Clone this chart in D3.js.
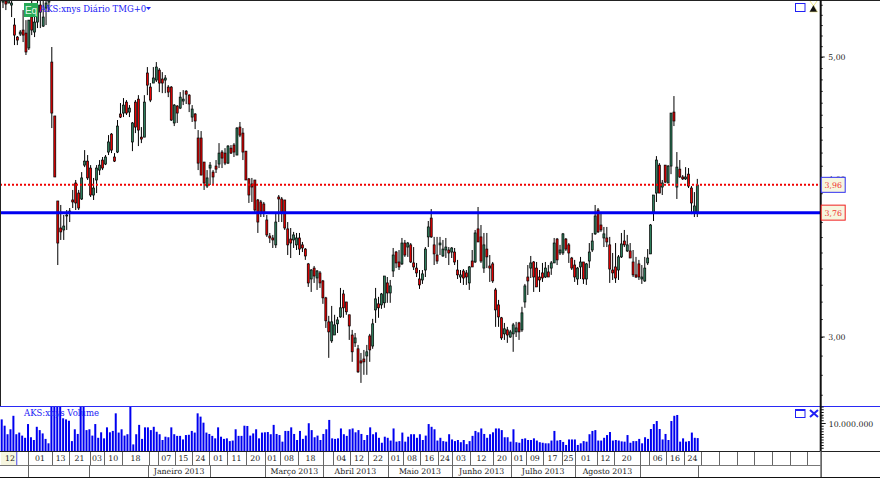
<!DOCTYPE html>
<html>
<head>
<meta charset="utf-8">
<script src="https://cdn.jsdelivr.net/npm/d3@7"></script>
<style>
    html, body { margin: 0; padding: 0; background: #fff; }
    svg { display: block; }
    text { font-family: "DejaVu Serif", "Liberation Serif", serif; }
</style>
</head>
<body>
<div id="chart"></div>
<script>
const highs = [
    5.60,5.60,5.60,5.60,5.368,5.195,5.252,5.447,5.348,5.348,
    5.60,5.427,5.60,5.60,5.60,5.60,5.60,5.092,4.490,3.845,
    3.817,3.748,3.782,3.796,3.923,3.995,3.923,4.053,4.219,4.181,
    4.105,4.010,4.105,4.143,4.166,4.181,4.336,4.352,4.196,4.457,
    4.597,4.639,4.622,4.580,4.441,4.622,4.664,4.400,4.664,4.909,
    4.768,4.909,4.954,4.900,4.864,4.838,4.750,4.742,4.589,4.580,
    4.690,4.707,4.707,4.672,4.580,4.514,4.376,4.368,4.128,4.068,
    4.128,4.068,4.143,4.273,4.219,4.234,4.258,4.258,4.273,4.400,
    4.441,4.392,4.211,4.010,4.010,3.995,3.859,3.852,3.838,3.748,
    3.627,3.614,3.768,3.887,3.873,3.852,3.700,3.660,3.634,3.627,
    3.627,3.568,3.529,3.434,3.396,3.415,3.390,3.384,3.329,3.228,
    3.118,3.175,3.124,3.112,3.281,3.269,3.198,3.124,3.039,3.022,
    2.957,2.914,2.930,2.957,3.017,3.101,3.281,3.228,3.251,3.353,
    3.347,3.329,3.529,3.510,3.516,3.594,3.581,3.568,3.561,3.535,
    3.434,3.390,3.390,3.535,3.707,3.789,3.601,3.601,3.601,3.581,
    3.594,3.535,3.535,3.529,3.453,3.390,3.396,3.390,3.415,3.516,
    3.647,3.803,3.680,3.627,3.627,3.484,3.440,3.281,3.210,3.112,
    3.078,3.056,3.039,3.078,3.084,3.084,3.170,3.305,3.421,3.478,
    3.446,3.440,3.390,3.434,3.440,3.421,3.446,3.594,3.594,3.549,
    3.627,3.594,3.561,3.472,3.453,3.409,3.472,3.440,3.434,3.561,
    3.627,3.817,3.796,3.768,3.667,3.667,3.601,3.497,3.561,3.484,
    3.627,3.647,3.614,3.561,3.516,3.472,3.453,3.421,3.472,3.522,
    3.687,3.887,4.173,4.120,3.995,4.105,4.105,4.514,4.656,4.204,
    4.143,4.031,4.090,4.083,3.951,3.908,4.003
];
const lows = [
    5.467,5.447,5.517,5.378,5.110,5.110,5.195,5.138,5.018,5.064,
    5.204,5.185,5.271,5.271,5.281,5.300,5.427,4.392,4.017,3.421,
    3.581,3.581,3.647,3.700,3.796,3.782,3.782,3.852,4.090,3.995,
    3.873,3.852,3.901,4.031,4.068,4.105,4.181,4.196,4.128,4.196,
    4.473,4.481,4.498,4.481,4.211,4.352,4.250,4.273,4.320,4.664,
    4.605,4.768,4.777,4.690,4.681,4.681,4.647,4.449,4.408,4.433,
    4.547,4.580,4.589,4.522,4.441,4.384,4.068,4.031,3.923,3.937,
    3.959,3.959,4.046,4.083,4.083,4.105,4.113,4.189,4.166,4.181,
    4.320,4.143,3.995,3.831,3.838,3.761,3.627,3.734,3.734,3.601,
    3.561,3.529,3.529,3.700,3.700,3.647,3.484,3.465,3.529,3.516,
    3.484,3.503,3.453,3.287,3.257,3.311,3.269,3.281,3.187,3.050,
    2.888,2.968,3.011,3.022,3.107,3.107,3.124,2.984,2.867,2.946,
    2.810,2.759,2.800,2.800,2.867,2.936,3.078,3.107,3.158,3.164,
    3.193,3.193,3.347,3.402,3.390,3.421,3.472,3.472,3.434,3.390,
    3.347,3.275,3.305,3.347,3.535,3.594,3.421,3.428,3.484,3.472,
    3.465,3.421,3.465,3.421,3.335,3.311,3.299,3.299,3.269,3.409,
    3.434,3.568,3.434,3.372,3.402,3.317,3.311,3.056,3.056,2.984,
    2.984,2.968,2.995,2.920,3.000,2.984,3.028,3.164,3.239,3.341,
    3.257,3.287,3.257,3.317,3.341,3.347,3.360,3.434,3.421,3.484,
    3.484,3.510,3.434,3.390,3.317,3.299,3.335,3.305,3.299,3.402,
    3.503,3.614,3.627,3.634,3.535,3.535,3.311,3.329,3.311,3.329,
    3.465,3.535,3.503,3.465,3.347,3.341,3.329,3.305,3.317,3.421,
    3.491,3.707,3.838,3.901,3.887,3.973,3.973,4.038,4.408,3.859,
    4.010,3.995,3.995,3.937,3.754,3.734,3.734
];
const opens = [
    5.527,5.537,5.517,5.497,5.300,5.185,5.214,5.252,5.223,5.083,
    5.378,5.233,5.329,5.497,5.290,5.467,5.527,4.954,4.490,3.845,
    3.660,3.647,3.741,3.761,3.852,3.973,3.901,3.859,4.105,4.135,
    4.083,3.887,3.995,4.068,4.143,4.113,4.204,4.344,4.166,4.204,
    4.506,4.514,4.605,4.522,4.282,4.605,4.630,4.320,4.320,4.856,
    4.733,4.768,4.794,4.882,4.803,4.794,4.733,4.733,4.433,4.572,
    4.555,4.614,4.698,4.664,4.481,4.506,4.313,4.313,4.128,3.951,
    4.083,4.053,4.098,4.113,4.204,4.196,4.120,4.234,4.258,4.181,
    4.400,4.352,4.211,4.003,3.966,3.995,3.852,3.838,3.824,3.714,
    3.607,3.594,3.549,3.873,3.859,3.852,3.654,3.587,3.581,3.549,
    3.594,3.549,3.522,3.428,3.335,3.402,3.341,3.372,3.323,3.222,
    3.084,2.979,3.011,3.073,3.112,3.245,3.198,3.124,3.011,2.968,
    2.936,2.872,2.882,2.898,3.006,2.951,3.152,3.187,3.181,3.193,
    3.311,3.251,3.384,3.503,3.440,3.428,3.561,3.535,3.549,3.434,
    3.402,3.335,3.329,3.390,3.601,3.727,3.549,3.484,3.549,3.478,
    3.516,3.516,3.503,3.503,3.390,3.347,3.384,3.372,3.311,3.446,
    3.440,3.654,3.601,3.402,3.522,3.415,3.428,3.269,3.181,3.107,
    3.017,3.039,3.000,3.017,3.028,3.078,3.039,3.198,3.347,3.402,
    3.440,3.402,3.347,3.372,3.347,3.378,3.402,3.434,3.587,3.497,
    3.497,3.587,3.549,3.465,3.421,3.335,3.409,3.440,3.335,3.446,
    3.516,3.621,3.782,3.680,3.594,3.594,3.549,3.390,3.409,3.390,
    3.472,3.574,3.510,3.510,3.440,3.360,3.428,3.335,3.323,3.434,
    3.491,3.761,3.901,4.105,3.944,4.105,3.973,4.098,4.522,3.944,
    4.075,4.017,4.003,4.038,3.937,3.761,3.761
];
const closes = [
    5.547,5.507,5.547,5.517,5.204,5.157,5.233,5.204,5.046,5.348,
    5.252,5.329,5.497,5.427,5.378,5.517,5.547,4.514,4.017,3.561,
    3.634,3.673,3.748,3.775,3.838,3.831,3.796,4.010,4.135,4.010,
    3.887,3.937,4.083,4.105,4.083,4.166,4.282,4.219,4.135,4.408,
    4.481,4.580,4.514,4.555,4.433,4.400,4.376,4.305,4.605,4.750,
    4.622,4.812,4.909,4.768,4.768,4.812,4.690,4.457,4.580,4.514,
    4.647,4.630,4.672,4.589,4.547,4.449,4.120,4.031,3.973,4.010,
    4.105,4.017,4.075,4.196,4.158,4.120,4.250,4.196,4.204,4.392,
    4.336,4.204,3.995,3.887,3.944,3.782,3.700,3.761,3.761,3.614,
    3.594,3.581,3.700,3.859,3.761,3.660,3.549,3.561,3.614,3.594,
    3.522,3.529,3.478,3.311,3.390,3.353,3.384,3.311,3.222,3.090,
    3.028,3.084,3.067,3.095,3.164,3.164,3.141,3.061,2.920,2.995,
    2.815,2.861,2.867,2.920,2.930,3.073,3.216,3.164,3.245,3.353,
    3.251,3.293,3.484,3.434,3.409,3.561,3.484,3.561,3.440,3.409,
    3.372,3.299,3.366,3.522,3.667,3.601,3.491,3.446,3.561,3.522,
    3.535,3.497,3.529,3.440,3.360,3.360,3.341,3.347,3.409,3.409,
    3.627,3.568,3.446,3.549,3.472,3.402,3.323,3.152,3.112,2.995,
    3.045,3.011,3.028,3.067,3.050,3.028,3.135,3.293,3.323,3.434,
    3.347,3.287,3.329,3.341,3.402,3.347,3.434,3.561,3.453,3.516,
    3.621,3.522,3.497,3.402,3.347,3.402,3.440,3.335,3.428,3.503,
    3.574,3.741,3.634,3.647,3.621,3.568,3.396,3.372,3.341,3.472,
    3.555,3.549,3.549,3.465,3.360,3.347,3.347,3.347,3.402,3.465,
    3.680,3.887,4.143,3.901,3.973,3.980,4.098,4.514,4.449,4.090,
    4.017,4.003,4.017,3.951,3.831,3.810,3.959
];
// volume in millions of shares
const volumes = [
    11.5,9.2,6.1,7.9,12.8,6.1,6.7,5.6,4.8,9.8,5.0,4.0,8.8,7.6,6.4,4.4,2.8,18,20,24,19,11.9,11.5,11.0,3.6,7.9,6.2,21,18,
    7.6,7.9,5.6,9.8,4.8,6.8,4.6,8.6,6.8,7.3,13.7,6.7,7.9,5.6,6.1,22,2.4,6.1,9.5,4.4,8.6,8.6,7.6,8.8,7.0,6.1,4.0,5.2,5.0,
    8.6,6.1,5.5,5.5,4.2,5.8,5.9,7.3,6.7,13.7,12.5,10.3,6.7,6.2,5.5,4.6,8.6,5.2,4.4,4.6,3.6,3.8,7.9,5.5,5.5,9.2,9.1,5.6,
    6.4,7.9,4.6,6.7,6.8,6.9,6.1,9.5,6.2,5.8,3.4,7.3,7.3,
    8.6,6.2,4.0,7.3,4.4,5.6,10.1,7.6,5.0,5.6,4.0,6.2,7.9,11.3,4.6,4.4,4.6,8.2,6.1,5.5,7.9,8.2,6.8,7.6,6.2,4.0,5.8,8.6,
    6.1,6.8,4.8,3.0,5.2,4.8,3.8,8.2,3.4,3.6,6.7,3.4,5.2,6.1,6.1,4.8,6.1,4.0,5.6,9.8,8.8,7.9,3.8,4.8,3.6,3.4,6.1,4.2,3.6,
    4.0,3.2,4.0,2.5,3.6,5.5,7.3,6.8,8.2,6.2,4.8,6.1,6.8,8.2,8.2,7.6,5.0,5.0,3.4,7.9,3.2,3.0,4.4,4.6,4.0,4.0,4.6,3.8,3.2,
    3.0,2.8,2.8,3.8,7.3,3.8,4.0,3.3,2.2,4.2,4.2,4.2,2.2,
    2.8,3.6,3.4,6.1,7.3,7.6,3.8,3.8,4.8,5.8,6.9,3.8,4.0,3.8,3.5,3.4,5.8,3.0,3.6,3.6,4.4,2.8,5.0,4.4,8.0,9.8,10.9,8.0,
    4.2,6.2,4.0,10.9,12.8,13.1,3.4,4.6,3.4,3.6,6.7,4.8,4.7
];

// calendar strips, breaks given in bar numbers
const dayLabels = ["12","","01","13","21","03","10","18","","07","15","24","01","11","20","01","08","18","","04","12","22",
    "01","08","16","24","03","12","20","01","09","17","25","01","12","20","","06","16","24","","","","","","","",""];
const dayBreaks = [0,4.8,8.8,17,22.9,29.7,34.6,40.6,49.5,52.5,58.2,63.9,69.7,75.8,81.9,88.3,93.4,99.4,108.1,111.3,117.3,123.3,130.3,
    135.5,141.3,147.3,152.1,158.3,166.1,172.3,177.5,183.3,189.6,194.2,201.5,207.5,216.2,219.5,225.3,231.4,237.3,243.5,249.5,
    255.5,261.6,267.6,273.6,278.4];
const monthLabels = ["","","","Janeiro 2013","","Março 2013","Abril 2013","Maio 2013","Junho 2013","Julho 2013","Agosto 2013","",""];
const monthBreaks = [0,8.8,29.6,49.3,70,88.4,108.1,130.1,152.2,172.3,194.2,216.2,236.4,278.4];

const priceTicks = d3.range(2.6, 5.65, 0.1).map(d => +d.toFixed(1));
const priceLabels = [3, 4, 5];
const resistance = 3.96;
const support = 3.764;

const width = 880, height = 478;
const axisX = 820.7;
const priceBottom = 406, volBottom = 451, dayBottom = 465, monthBottom = 477;
const labelSize = 7.8;

const svg = d3.select('#chart').append('svg')
    .attr('width', width)
    .attr('height', height);

svg.append('defs').append('clipPath').attr('id', 'price-clip')
    .append('rect').attr('x', 0).attr('y', 0).attr('width', axisX).attr('height', priceBottom);
svg.select('defs').append('clipPath').attr('id', 'vol-clip')
    .append('rect').attr('x', 0).attr('y', priceBottom).attr('width', axisX).attr('height', volBottom - priceBottom);

// bars are not quite evenly spread in the picture, hence the extra stops
const xScale = d3.scaleLinear()
    .domain([0, 17, 97, 199, 236])
    .range([3, 51.8, 290.7, 589.3, 697.3]);
const xVol = d3.scaleLinear()
    .domain([0, volumes.length - 1])
    .range([1.7, 697.7]);
const yScale = d3.scaleLog()
    .domain([5, 3])
    .range([57, 337]);
const yVol = d3.scaleLinear()
    .domain([0, 10])
    .range([volBottom, 423.5]);

// price panel
const pricePanel = svg.append('g').attr('clip-path', 'url(#price-clip)');

pricePanel.selectAll('line.wick')
    .data(highs)
    .join('line')
    .attr('class', 'wick')
    .attr('x1', (d, i) => xScale(i))
    .attr('x2', (d, i) => xScale(i))
    .attr('y1', d => yScale(d))
    .attr('y2', (d, i) => yScale(lows[i]))
    .attr('stroke', '#000')
    .attr('stroke-width', 1);

pricePanel.selectAll('rect.body')
    .data(opens)
    .join('rect')
    .attr('class', 'body')
    .attr('x', (d, i) => xScale(i) - 1)
    .attr('y', (d, i) => yScale(Math.max(d, closes[i])))
    .attr('width', 2)
    .attr('height', (d, i) => Math.max(1, yScale(Math.min(d, closes[i])) - yScale(Math.max(d, closes[i]))))
    .attr('fill', (d, i) => closes[i] >= d ? '#2e7d5b' : '#e60000')
    .attr('stroke', '#000')
    .attr('stroke-width', 0.7);

svg.append('line')
    .attr('x1', 0).attr('x2', axisX)
    .attr('y1', yScale(resistance)).attr('y2', yScale(resistance))
    .attr('stroke', '#f00000')
    .attr('stroke-width', 2)
    .attr('stroke-dasharray', '2,2');
svg.append('line')
    .attr('x1', 0).attr('x2', axisX)
    .attr('y1', yScale(support)).attr('y2', yScale(support))
    .attr('stroke', '#0000f0')
    .attr('stroke-width', 3);

// volume panel
svg.append('g').attr('clip-path', 'url(#vol-clip)')
    .selectAll('rect')
    .data(volumes)
    .join('rect')
    .attr('x', (d, i) => xVol(i) - 1)
    .attr('y', d => yVol(d))
    .attr('width', 2)
    .attr('height', d => volBottom - yVol(d))
    .attr('fill', '#0000f0');

// frame
svg.append('rect').attr('x', 0).attr('y', 0).attr('width', width).attr('height', 1).attr('fill', '#222');
svg.append('rect').attr('x', 0).attr('y', 0).attr('width', 1).attr('height', priceBottom).attr('fill', '#222');
svg.append('line').attr('x1', 0).attr('x2', width).attr('y1', priceBottom + 0.5).attr('y2', priceBottom + 0.5)
    .attr('stroke', '#2a2af5').attr('stroke-width', 1);
svg.append('line').attr('x1', 0).attr('x2', width).attr('y1', volBottom + 0.5).attr('y2', volBottom + 0.5)
    .attr('stroke', '#222').attr('stroke-width', 1);
svg.append('line').attr('x1', 0).attr('x2', axisX).attr('y1', dayBottom + 0.5).attr('y2', dayBottom + 0.5)
    .attr('stroke', '#777').attr('stroke-width', 1);
svg.append('line').attr('x1', 0).attr('x2', width).attr('y1', monthBottom + 0.5).attr('y2', monthBottom + 0.5)
    .attr('stroke', '#111').attr('stroke-width', 1);

// calendar strips
svg.append('rect')
    .attr('x', 1).attr('y', volBottom + 1)
    .attr('width', xScale(dayBreaks[1]) - 1).attr('height', dayBottom - volBottom - 1)
    .attr('fill', '#f6f6df');
svg.append('line')
    .attr('x1', xScale(dayBreaks[1])).attr('x2', xScale(dayBreaks[1]))
    .attr('y1', volBottom + 1).attr('y2', dayBottom)
    .attr('stroke', '#4a4af0');

const dayStrip = svg.append('g');
dayStrip.selectAll('line')
    .data(dayBreaks.slice(2))
    .join('line')
    .attr('x1', d => Math.round(xScale(d)) + 0.5)
    .attr('x2', d => Math.round(xScale(d)) + 0.5)
    .attr('y1', volBottom + 1)
    .attr('y2', dayBottom)
    .attr('stroke', '#666');
dayStrip.selectAll('text')
    .data(dayLabels)
    .join('text')
    .attr('x', (d, i) => xScale((dayBreaks[i] + dayBreaks[i + 1]) / 2))
    .attr('y', 461)
    .attr('text-anchor', 'middle')
    .attr('font-size', labelSize)
    .attr('fill', '#222')
    .text(d => d);

const monthStrip = svg.append('g');
monthStrip.selectAll('line')
    .data(monthBreaks.slice(1))
    .join('line')
    .attr('x1', d => Math.round(xScale(d)) + 0.5)
    .attr('x2', d => Math.round(xScale(d)) + 0.5)
    .attr('y1', dayBottom)
    .attr('y2', monthBottom)
    .attr('stroke', '#666');
monthStrip.selectAll('text')
    .data(monthLabels)
    .join('text')
    .attr('x', (d, i) => xScale((monthBreaks[i] + monthBreaks[i + 1]) / 2))
    .attr('y', 474)
    .attr('text-anchor', 'middle')
    .attr('font-size', labelSize)
    .attr('fill', '#222')
    .text(d => d);

// price axis
const priceAxis = d3.axisRight(yScale)
    .tickValues(priceTicks)
    .tickSize(2)
    .tickFormat('');
const axisG = svg.append('g')
    .attr('transform', `translate(${axisX}, 0)`)
    .call(priceAxis);
axisG.select('.domain').remove();
axisG.selectAll('line').attr('stroke', '#111');

const priceLabelG = svg.append('g');
priceLabelG.selectAll('line')
    .data(priceLabels)
    .join('line')
    .attr('x1', axisX)
    .attr('x2', axisX + 4)
    .attr('y1', d => yScale(d))
    .attr('y2', d => yScale(d))
    .attr('stroke', '#111');
priceLabelG.selectAll('text')
    .data(priceLabels)
    .join('text')
    .attr('x', axisX + 7.5)
    .attr('y', d => yScale(d) + 3)
    .attr('font-size', labelSize)
    .attr('fill', '#222')
    .text(d => d3.format('.2f')(d).replace('.', ','));

svg.append('line')
    .attr('x1', axisX).attr('x2', axisX)
    .attr('y1', 0).attr('y2', volBottom)
    .attr('stroke', '#111')
    .attr('stroke-width', 2);
svg.append('line')
    .attr('x1', axisX).attr('x2', axisX)
    .attr('y1', volBottom).attr('y2', monthBottom)
    .attr('stroke', '#777');

// volume axis
const volTicks = [1, 2, 3, 4, 5, 6, 7, 8, 9, 11, 12, 13, 14, 15, 16];
svg.append('g').selectAll('line')
    .data(volTicks)
    .join('line')
    .attr('x1', axisX)
    .attr('x2', axisX + 3)
    .attr('y1', d => yVol(d))
    .attr('y2', d => yVol(d))
    .attr('stroke', '#111');
svg.append('line')
    .attr('x1', axisX).attr('x2', axisX + 5)
    .attr('y1', yVol(10)).attr('y2', yVol(10))
    .attr('stroke', '#111');
svg.append('text')
    .attr('x', axisX + 8)
    .attr('y', yVol(10) + 3)
    .attr('font-size', labelSize)
    .attr('fill', '#222')
    .text('10.000.000');

// value tags
const tags = [
    {value: resistance, stroke: '#3030f0'},
    {value: support, stroke: '#f02020'}
];
const tagG = svg.append('g').selectAll('g')
    .data(tags)
    .join('g')
    .attr('transform', d => `translate(${axisX + 0.5}, ${yScale(d.value)})`);
tagG.append('rect')
    .attr('x', 0).attr('y', -7.5)
    .attr('width', 24).attr('height', 15)
    .attr('fill', '#f6f6df')
    .attr('stroke', d => d.stroke);
tagG.append('text')
    .attr('x', 12).attr('y', 3)
    .attr('text-anchor', 'middle')
    .attr('font-size', labelSize)
    .attr('fill', '#f03030')
    .text(d => d3.format('.2f')(d.value).replace('.', ','));

// titles
svg.append('rect').attr('x', 24).attr('y', 3).attr('width', 14).attr('height', 14).attr('fill', '#27a956');
svg.append('text').attr('x', 31).attr('y', 13.5).attr('text-anchor', 'middle')
    .style('font-family', '"Liberation Sans"')
    .attr('font-size', 10).attr('fill', '#e8f5e8').text('Eq');
svg.append('text').attr('x', 40).attr('y', 12)
    .attr('font-size', 8.5).attr('fill', '#2020f5')
    .text('AKS:xnys Diário TMG+0');
svg.append('path').attr('d', d3.line()([[146, 7], [151, 7], [148.5, 10]])).attr('fill', '#2020f5');
svg.append('text').attr('x', 24).attr('y', 416)
    .attr('font-size', 8.5).attr('fill', '#2020f5')
    .text('AKS:xnys Volume');

// little window buttons
svg.append('rect').attr('x', 795.5).attr('y', 3.5).attr('width', 9.5).attr('height', 8)
    .attr('fill', '#fff').attr('stroke', '#2020f5').attr('stroke-width', 1);
svg.append('path').attr('d', 'M810,1L813.5,6L817,1')
    .attr('fill', 'none').attr('stroke', '#f0e68c').attr('stroke-width', 1);
svg.append('path').attr('d', d3.line()([[813.5, 5], [817.5, 12], [809.5, 12]]))
    .attr('fill', '#111').attr('stroke', '#f0e68c').attr('stroke-width', 0.6);
svg.append('rect').attr('x', 795.5).attr('y', 409.5).attr('width', 9.5).attr('height', 8)
    .attr('fill', '#fff').attr('stroke', '#2020f5').attr('stroke-width', 1);
svg.append('rect').attr('x', 795.5).attr('y', 409.5).attr('width', 9.5).attr('height', 1.5).attr('fill', '#2020f5');
svg.append('path').attr('d', 'M810,410L818,417M818,410L810,417')
    .attr('stroke', '#2020f5').attr('stroke-width', 2).attr('fill', 'none');
</script>
</body>
</html>
